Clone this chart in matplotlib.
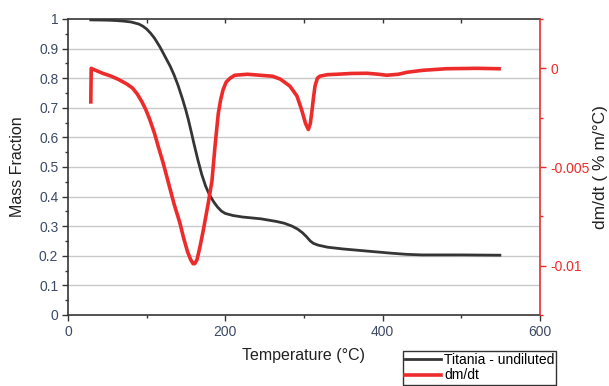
import matplotlib
matplotlib.use("Agg")
import matplotlib.pyplot as plt
from matplotlib.ticker import MultipleLocator
from matplotlib.lines import Line2D

plt.rcParams['font.family'] = ['Liberation Sans', 'DejaVu Sans']

# Mass fraction curve (left axis)
T_mass = [29, 50, 60, 70, 80, 90, 95, 100, 105, 110, 117, 125, 130, 135, 140,
          146, 150, 153, 157, 160, 165, 170, 175, 180, 185, 190, 195, 200, 210,
          222, 245, 265, 275, 285, 292, 298, 303, 308, 312, 318, 330, 350, 380,
          410, 430, 450, 500, 549]
mass = [0.997, 0.996, 0.995, 0.993, 0.99, 0.983, 0.976, 0.966, 0.952, 0.935,
        0.905, 0.865, 0.84, 0.81, 0.775, 0.726, 0.69, 0.66, 0.615, 0.58, 0.525,
        0.475, 0.435, 0.405, 0.383, 0.365, 0.351, 0.343, 0.336, 0.331, 0.325,
        0.316, 0.31, 0.3, 0.29, 0.278, 0.265, 0.25, 0.242, 0.236, 0.229, 0.223,
        0.216, 0.209, 0.205, 0.203, 0.203, 0.202]

# dm/dt curve (right axis)
T_dmdt = [29, 29.5, 35, 44, 55, 65, 75, 82, 88, 94, 99, 104, 110, 115, 121, 127,
          135, 142, 147, 152, 156, 159, 161, 164, 168, 172, 178, 183, 187, 191,
          194, 197, 201, 206, 212, 228, 244, 260, 270, 282, 291, 297, 302, 305.5,
          308, 310, 312, 314, 317, 320, 330, 342, 360, 380, 395, 405, 420, 431,
          451, 481, 520, 548]
dmdt = [-0.0017, 0.0, -0.0001, -0.00025, -0.0004, -0.00058, -0.0008, -0.001,
        -0.0013, -0.0017, -0.0021, -0.0026, -0.0033, -0.004, -0.0048, -0.0057,
        -0.0069, -0.0078, -0.0086, -0.0093, -0.0097, -0.0099, -0.0099, -0.0097,
        -0.009, -0.0082, -0.0069, -0.0057, -0.0039, -0.0023, -0.0016, -0.0011,
        -0.0007, -0.0005, -0.00035, -0.0003, -0.00035, -0.0004, -0.00055,
        -0.0009, -0.0014, -0.0021, -0.0028, -0.0031, -0.0028, -0.0022, -0.0015,
        -0.0009, -0.0005, -0.0004, -0.00032, -0.0003, -0.00026, -0.00025,
        -0.0003, -0.00035, -0.0003, -0.0002, -0.0001, -0.00002, 0.0, -0.00002]

x_ticks = [0, 200, 400, 600]
left_ticks = [0, 0.1, 0.2, 0.3, 0.4, 0.5, 0.6, 0.7, 0.8, 0.9, 1]
left_labels = ['0', '0.1', '0.2', '0.3', '0.4', '0.5', '0.6', '0.7', '0.8', '0.9', '1']
right_ticks = [0, -0.005, -0.01]
right_labels = ['0', '-0.005', '-0.01']

black = '#353535'
red = '#ee2b2b'
tick_col = '#3d4a66'

fig = plt.figure(figsize=(6.09, 3.86), dpi=100)
ax = fig.add_axes([68/609, 1-315/386, (540-68)/609, (315-19)/386])

ax.set_xlim(0, 600)
ax.set_ylim(0, 1)
ax.set_yticks(left_ticks)
ax.set_yticklabels(left_labels)
ax.set_xticks(x_ticks)
ax.xaxis.set_minor_locator(MultipleLocator(100))
ax.yaxis.set_minor_locator(MultipleLocator(0.05))
for y in left_ticks[1:-1]:
    ax.axhline(y, color='#c8c8c8', lw=1.0, zorder=0)

ax.tick_params(axis='both', which='major', direction='out', length=4, width=1,
               colors=black, labelcolor=tick_col, labelsize=10)
ax.tick_params(axis='both', which='minor', direction='out', length=2, width=1,
               colors=black)
ax.tick_params(axis='y', pad=3)
for s in ['left', 'bottom', 'top']:
    ax.spines[s].set_color(black)
    ax.spines[s].set_linewidth(1.2)
ax.spines['right'].set_visible(False)

top = ax.secondary_xaxis('top')
top.set_xticks([100, 200, 300, 400, 500])
top.tick_params(direction='in', length=3, width=1, colors=black, labeltop=False)
top.spines['top'].set_visible(False)

ax.plot(T_mass, mass, color=black, lw=2.0, zorder=3)

ax.set_xlabel('Temperature (°C)', fontsize=11.5, color='#222222', labelpad=6)
ax.set_ylabel('Mass Fraction', fontsize=11.5, color='#222222', labelpad=10)

ax2 = ax.twinx()
ax2.set_ylim(-0.0125, 0.0025)
ax2.set_yticks(right_ticks)
ax2.set_yticklabels(right_labels)
ax2.yaxis.set_minor_locator(MultipleLocator(0.0025))
ax2.tick_params(axis='y', which='major', direction='out', length=4, width=1,
                colors=red, labelcolor=red, labelsize=10)
ax2.tick_params(axis='y', which='minor', direction='out', length=2, width=1,
                colors=red)
ax2.spines['right'].set_color(red)
ax2.spines['right'].set_linewidth(1.2)
for s in ['left', 'bottom', 'top']:
    ax2.spines[s].set_visible(False)
ax2.plot(T_dmdt, dmdt, color=red, lw=2.6, zorder=4)
ax2.set_ylabel('dm/dt ( % m/°C)', fontsize=12.5, color='#222222')
ax2.yaxis.set_label_coords((601 - 68) / (540 - 68), 0.5)
ax2.yaxis.label.set_verticalalignment('center')
ax2.yaxis.label.set_horizontalalignment('center')

handles = [Line2D([], [], color=black, lw=2.0), Line2D([], [], color=red, lw=2.6)]
leg = fig.legend(handles, ['Titania - undiluted', 'dm/dt'],
                 loc='upper left', bbox_to_anchor=(403/609, 1-351/386),
                 frameon=True, fancybox=False, edgecolor='black', fontsize=10,
                 handlelength=2.6, handletextpad=0.2, borderpad=0.15,
                 labelspacing=0.1, borderaxespad=0)
leg.get_frame().set_linewidth(1.0)

fig.savefig('out.png', dpi=100)
